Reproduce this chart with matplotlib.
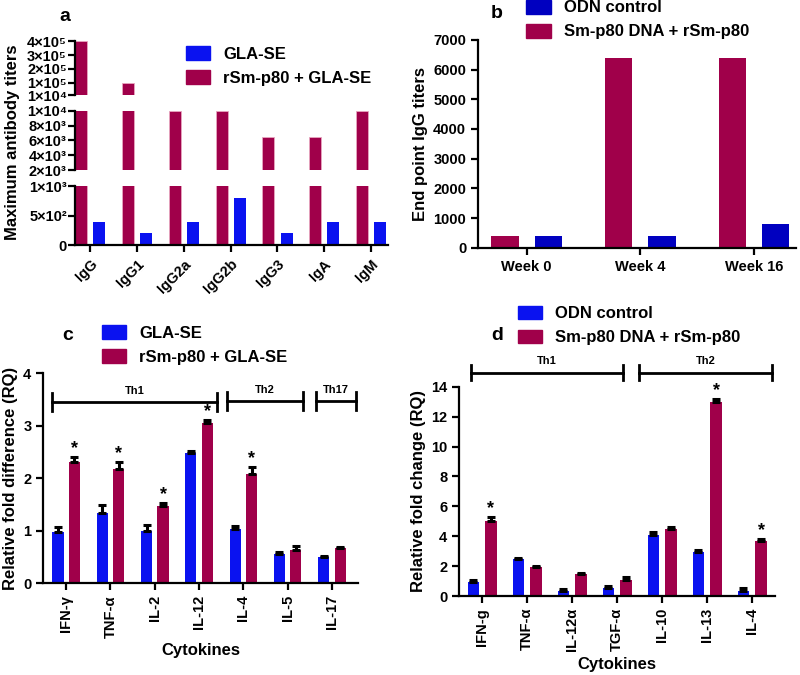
import numpy as np
import matplotlib
matplotlib.use("Agg")
import matplotlib.pyplot as plt
from matplotlib.patches import Patch

plt.rcParams['font.family'] = ['Liberation Sans', 'DejaVu Sans']
plt.rcParams['font.weight'] = 'bold'
plt.rcParams['axes.labelweight'] = 'bold'
plt.rcParams['axes.linewidth'] = 1.6
plt.rcParams['xtick.major.width'] = 1.6
plt.rcParams['ytick.major.width'] = 1.6
plt.rcParams['xtick.major.size'] = 5
plt.rcParams['ytick.major.size'] = 5

RED = '#a0004a'
BLUE = '#0a12f0'
DBLUE = '#0000c0'

# ---- panel a data
iso = ['IgG', 'IgG1', 'IgG2a', 'IgG2b', 'IgG3', 'IgA', 'IgM']
a_gla = [400, 200, 400, 800, 200, 400, 400]
a_rsm = [400000, 100000, 10000, 10000, 6400, 6400, 10000]

# ---- panel b data
weeks = ['Week 0', 'Week 4', 'Week 16']
b_odn = [400, 400, 800]
b_sm = [400, 6400, 6400]

# ---- panel c data
c_cyt = ['IFN-γ', 'TNF-α', 'IL-2', 'IL-12', 'IL-4', 'IL-5', 'IL-17']
c_gla = [0.97, 1.34, 1.0, 2.48, 1.04, 0.55, 0.49]
c_gla_err = [0.10, 0.15, 0.11, 0.04, 0.05, 0.05, 0.03]
c_rsm = [2.30, 2.17, 1.47, 3.06, 2.08, 0.64, 0.67]
c_rsm_err = [0.11, 0.13, 0.05, 0.05, 0.14, 0.06, 0.02]
c_star = [True, True, True, True, True, False, False]

# ---- panel d data
d_cyt = ['IFN-g', 'TNF-α', 'IL-12α', 'TGF-α', 'IL-10', 'IL-13', 'IL-4']
d_odn = [0.96, 2.45, 0.33, 0.56, 4.08, 2.96, 0.36]
d_odn_err = [0.11, 0.11, 0.12, 0.11, 0.22, 0.12, 0.15]
d_sm = [5.0, 1.92, 1.45, 1.09, 4.48, 12.97, 3.66]
d_sm_err = [0.26, 0.08, 0.11, 0.2, 0.16, 0.18, 0.13]
d_star = [True, False, False, False, False, True, True]

fig = plt.figure(figsize=(8, 6.75), dpi=100)

def style(ax, bottom=True):
    ax.spines['top'].set_visible(False)
    ax.spines['right'].set_visible(False)
    if not bottom:
        ax.spines['bottom'].set_visible(False)
        ax.tick_params(axis='x', bottom=False, labelbottom=False)
    ax.tick_params(labelsize=10.5)

# ================= panel a (broken axis)
x = np.arange(len(iso))
w = 0.257
off = 0.193
segs = [
    ([0.094, 0.859, 0.391, 0.080], (1e4, 4e5), [1e4, 1e5, 2e5, 3e5, 4e5],
     ['1×10⁴', '1×10⁵', '2×10⁵', '3×10⁵', '4×10⁵']),
    ([0.094, 0.748, 0.391, 0.088], (2e3, 1e4), [2e3, 4e3, 6e3, 8e3, 1e4],
     ['2×10³', '4×10³', '6×10³', '8×10³', '1×10⁴']),
    ([0.094, 0.637, 0.391, 0.087], (0, 1000), [0, 500, 1000],
     ['0', '5×10²', '1×10³']),
]
for k, (rect, lim, ticks, labels) in enumerate(segs):
    ax = fig.add_axes(rect)
    ax.bar(x - off, a_rsm, w, color=RED, edgecolor='#e8a6bf', linewidth=0.6)
    ax.bar(x + off, a_gla, w, color=BLUE)
    ax.set_ylim(*lim)
    ax.set_xlim(-0.32, 6.36)
    ax.set_yticks(ticks)
    ax.set_yticklabels(labels, fontsize=9.5)
    ax.tick_params(axis='y', pad=1)
    style(ax, bottom=(k == 2))
    if k == 2:
        ax.set_xticks(x)
        ax.set_xticklabels(iso, rotation=45, ha='right', rotation_mode='anchor', fontsize=10.5)
fig.text(0.016, 0.79, 'Maximum antibody titers', rotation=90, ha='center', va='center',
         fontsize=12, fontweight='bold')
fig.text(0.081, 0.975, 'a', fontsize=14, fontweight='bold', ha='center', va='center')
fig.legend(handles=[Patch(color=BLUE), Patch(color=RED)],
           labels=['GLA-SE', 'rSm-p80 + GLA-SE'], loc='center left',
           bbox_to_anchor=(0.232, 0.902), frameon=False, fontsize=12,
           handlelength=1.45, handleheight=0.9, handletextpad=0.8, labelspacing=0.5,
           borderpad=0, borderaxespad=0)

# ================= panel b
axb = fig.add_axes([0.5975, 0.633, 0.3975, 0.308])
xb = np.arange(len(weeks))
axb.bar(xb - 0.19, b_sm, 0.24, color=RED)
axb.bar(xb + 0.19, b_odn, 0.24, color=DBLUE)
axb.set_xlim(-0.428, 2.37)
axb.set_ylim(0, 7000)
axb.set_yticks(range(0, 7001, 1000))
axb.set_xticks(xb)
axb.set_xticklabels(weeks)
axb.set_ylabel('End point IgG titers', fontsize=12)
style(axb)
fig.text(0.621, 0.98, 'b', fontsize=14, fontweight='bold', ha='center', va='center')
fig.legend(handles=[Patch(color=DBLUE), Patch(color=RED)],
           labels=['ODN control', 'Sm-p80 DNA + rSm-p80'], loc='center left',
           bbox_to_anchor=(0.658, 0.971), frameon=False, fontsize=12,
           handlelength=1.45, handleheight=0.9, handletextpad=0.8, labelspacing=0.5,
           borderpad=0, borderaxespad=0)

# ================= grouped bars with upper error bars
def cyto(ax, names, v1, e1, v2, e2, stars, c1, w, off):
    xx = np.arange(len(names))
    ax.bar(xx - off, v1, w, color=c1)
    ax.bar(xx + off, v2, w, color=RED)
    ax.errorbar(xx - off, v1, yerr=[np.zeros(len(v1)), e1], fmt='none', ecolor='black',
                elinewidth=2.2, capsize=3, capthick=2.2)
    ax.errorbar(xx + off, v2, yerr=[np.zeros(len(v2)), e2], fmt='none', ecolor='black',
                elinewidth=2.2, capsize=3, capthick=2.2)
    for i, s in enumerate(stars):
        if s:
            ax.text(xx[i] + off, v2[i] + e2[i], '*', ha='center', va='bottom', fontsize=13)
    ax.set_xticks(xx)
    ax.set_xticklabels(names, rotation=90, fontsize=10.5)
    ax.set_xlabel('Cytokines', fontsize=12)
    style(ax)

def bracket(ax, x0, x1, y, h, label, dy):
    kw = dict(color='black', lw=2, clip_on=False)
    ax.plot([x0, x1], [y, y], **kw)
    ax.plot([x0, x0], [y - h, y + h], **kw)
    ax.plot([x1, x1], [y - h, y + h], **kw)
    ax.text((x0 + x1) / 2, y + dy, label, ha='center', va='bottom', fontsize=8, clip_on=False)

# ================= panel c
axc = fig.add_axes([0.054, 0.136, 0.3935, 0.311])
cyto(axc, c_cyt, c_gla, c_gla_err, c_rsm, c_rsm_err, c_star, BLUE, 0.25, 0.186)
axc.set_xlim(-0.52, 6.59)
axc.set_ylim(0, 4)
axc.set_yticks(range(5))
axc.set_ylabel('Relative fold difference (RQ)', fontsize=12)
bracket(axc, -0.32, 3.41, 3.45, 0.17, 'Th1', 0.12)
bracket(axc, 3.63, 5.35, 3.47, 0.17, 'Th2', 0.12)
bracket(axc, 5.64, 6.55, 3.47, 0.17, 'Th17', 0.12)
fig.text(0.084, 0.503, 'c', fontsize=14, fontweight='bold', ha='center', va='center')
fig.legend(handles=[Patch(color=BLUE), Patch(color=RED)],
           labels=['GLA-SE', 'rSm-p80 + GLA-SE'], loc='center left',
           bbox_to_anchor=(0.127, 0.489), frameon=False, fontsize=12,
           handlelength=1.45, handleheight=0.9, handletextpad=0.8, labelspacing=0.5,
           borderpad=0, borderaxespad=0)

# ================= panel d
axd = fig.add_axes([0.574, 0.117, 0.395, 0.31])
cyto(axd, d_cyt, d_odn, d_odn_err, d_sm, d_sm_err, d_star, BLUE, 0.25, 0.195)
axd.set_xlim(-0.51, 6.51)
axd.set_ylim(0, 14)
axd.set_yticks(range(0, 15, 2))
axd.set_ylabel('Relative fold change (RQ)', fontsize=12)
bracket(axd, -0.24, 3.13, 14.94, 0.5, 'Th1', 0.45)
bracket(axd, 3.49, 6.44, 14.94, 0.5, 'Th2', 0.45)
fig.text(0.621, 0.503, 'd', fontsize=14, fontweight='bold', ha='center', va='center')
fig.legend(handles=[Patch(color=BLUE), Patch(color=RED)],
           labels=['ODN control', 'Sm-p80 DNA + rSm-p80'], loc='center left',
           bbox_to_anchor=(0.647, 0.518), frameon=False, fontsize=12,
           handlelength=1.45, handleheight=0.9, handletextpad=0.8, labelspacing=0.5,
           borderpad=0, borderaxespad=0)

fig.savefig('out.png', dpi=100)
